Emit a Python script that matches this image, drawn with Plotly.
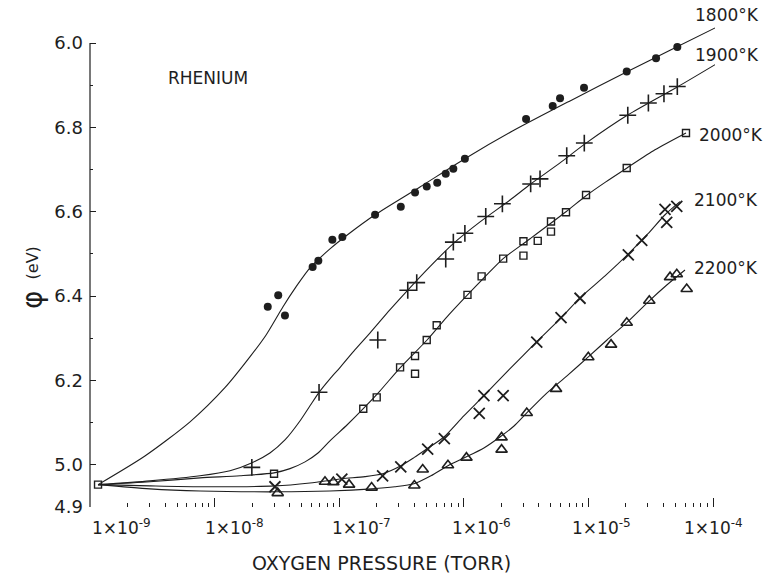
import plotly.graph_objects as go

# ---------------- data ----------------
# work function phi (eV) vs oxygen pressure (torr)
p1800 = [2.67e-8, 3.24e-8, 3.67e-8, 6.12e-8, 6.80e-8, 8.81e-8, 1.06e-7, 1.94e-7, 3.12e-7, 4.06e-7,
         5.04e-7, 6.12e-7, 7.16e-7, 8.24e-7, 1.02e-6, 3.16e-6, 5.17e-6, 5.92e-6, 9.22e-6, 2.03e-5,
         3.49e-5, 5.17e-5]
phi1800 = [6.375, 6.402, 6.354, 6.469, 6.484, 6.534, 6.540, 6.593, 6.612, 6.646,
           6.660, 6.669, 6.690, 6.702, 6.726, 6.820, 6.851, 6.869, 6.894, 6.933,
           6.964, 6.991]

p1900 = [1.99e-8, 6.89e-8, 2.04e-7, 3.55e-7, 4.19e-7, 7.16e-7, 8.24e-7, 1.02e-6, 1.50e-6, 2.04e-6,
         3.44e-6, 4.09e-6, 6.70e-6, 9.27e-6, 2.07e-5, 3.03e-5, 4.04e-5, 5.17e-5]
phi1900 = [5.994, 6.172, 6.296, 6.414, 6.432, 6.488, 6.528, 6.549, 6.589, 6.619,
           6.666, 6.678, 6.733, 6.763, 6.829, 6.858, 6.880, 6.897]

p2000 = [1.16e-9, 3.00e-8, 1.56e-7, 2.00e-7, 3.08e-7, 4.06e-7, 4.06e-7, 5.04e-7, 6.06e-7, 1.07e-6,
         1.39e-6, 2.07e-6, 3.01e-6, 3.01e-6, 3.92e-6, 5.01e-6, 5.01e-6, 6.61e-6, 9.57e-6, 2.03e-5,
         6.07e-5]
phi2000 = [5.953, 5.979, 6.133, 6.160, 6.231, 6.216, 6.258, 6.296, 6.331, 6.403,
           6.447, 6.489, 6.530, 6.496, 6.531, 6.577, 6.553, 6.599, 6.640, 6.704,
           6.787]

p2100 = [3.05e-8, 1.05e-7, 2.23e-7, 3.12e-7, 5.13e-7, 6.98e-7, 1.33e-6, 1.45e-6, 2.07e-6, 3.85e-6,
         6.03e-6, 8.57e-6, 2.09e-5, 2.68e-5, 4.12e-5, 4.25e-5, 5.12e-5]
phi2100 = [5.948, 5.966, 5.974, 5.995, 6.037, 6.062, 6.122, 6.164, 6.164, 6.291,
           6.349, 6.395, 6.498, 6.532, 6.606, 6.575, 6.613]

p2200 = [3.21e-8, 7.69e-8, 8.97e-8, 1.20e-7, 1.82e-7, 4.01e-7, 4.68e-7, 7.46e-7, 1.05e-6, 2.01e-6,
         2.01e-6, 3.20e-6, 5.50e-6, 9.98e-6, 1.52e-5, 2.03e-5, 3.08e-5, 4.52e-5, 5.12e-5, 6.15e-5]
phi2200 = [5.933, 5.960, 5.959, 5.953, 5.946, 5.951, 5.989, 5.999, 6.017, 6.065,
           6.036, 6.123, 6.180, 6.255, 6.285, 6.337, 6.389, 6.445, 6.452, 6.417]

# fitted curves
c1800_p = [1.16e-9, 2.76e-9, 6.35e-9, 1.21e-8, 1.92e-8, 2.59e-8, 3.54e-8, 4.50e-8, 5.83e-8, 8.43e-8,
           1.16e-7, 1.94e-7, 4.45e-7, 1.02e-6, 2.48e-6, 7.12e-6, 2.04e-5, 4.52e-5, 1.04e-4]
c1800_phi = [5.953, 6.021, 6.102, 6.183, 6.256, 6.308, 6.375, 6.422, 6.467, 6.512,
             6.545, 6.593, 6.659, 6.726, 6.792, 6.863, 6.932, 6.983, 7.036]

c1900_p = [1.16e-9, 3.03e-9, 7.64e-9, 1.33e-8, 2.00e-8, 2.78e-8, 3.67e-8, 4.84e-8, 5.83e-8, 6.89e-8,
           8.43e-8, 1.01e-7, 1.34e-7, 1.77e-7, 2.56e-7, 3.57e-7, 5.35e-7, 8.19e-7, 1.35e-6, 2.35e-6,
           3.44e-6, 5.92e-6, 9.39e-6, 2.08e-5, 5.17e-5, 1.04e-4]
c1900_phi = [5.953, 5.962, 5.974, 5.986, 6.005, 6.028, 6.059, 6.104, 6.140, 6.172,
             6.204, 6.230, 6.273, 6.313, 6.368, 6.415, 6.470, 6.524, 6.576, 6.628,
             6.666, 6.716, 6.761, 6.830, 6.896, 6.949]

c2000_p = [1.16e-9, 3.03e-9, 7.64e-9, 1.60e-8, 3.00e-8, 4.03e-8, 5.32e-8, 6.76e-8, 8.43e-8, 1.16e-7,
           1.56e-7, 2.12e-7, 3.08e-7, 5.07e-7, 7.33e-7, 1.07e-6, 1.48e-6, 2.07e-6, 3.40e-6, 6.61e-6,
           9.57e-6, 1.38e-5, 2.04e-5, 3.42e-5, 6.07e-5]
c2000_phi = [5.953, 5.960, 5.969, 5.974, 5.981, 5.991, 6.007, 6.028, 6.057, 6.095,
             6.133, 6.175, 6.230, 6.296, 6.351, 6.403, 6.446, 6.489, 6.536, 6.600,
             6.638, 6.671, 6.704, 6.747, 6.787]

c2100_p = [1.16e-9, 3.03e-9, 7.64e-9, 3.05e-8, 5.83e-8, 1.05e-7, 1.61e-7, 2.23e-7, 3.13e-7, 3.98e-7,
           5.07e-7, 6.93e-7, 1.00e-6, 1.45e-6, 2.35e-6, 3.85e-6, 5.92e-6, 8.57e-6, 1.36e-5, 2.09e-5,
           3.01e-5, 4.12e-5, 5.43e-5]
c2100_phi = [5.953, 5.950, 5.948, 5.950, 5.957, 5.967, 5.972, 5.979, 5.998, 6.017,
             6.038, 6.066, 6.116, 6.164, 6.228, 6.292, 6.346, 6.396, 6.448, 6.500,
             6.548, 6.593, 6.624]

c2200_p = [1.16e-9, 3.03e-9, 7.64e-9, 3.17e-8, 8.43e-8, 1.83e-7, 2.80e-7, 3.98e-7, 5.45e-7, 7.46e-7,
           1.05e-6, 1.45e-6, 1.95e-6, 2.53e-6, 3.20e-6, 4.48e-6, 6.73e-6, 9.98e-6, 1.41e-5, 2.03e-5,
           3.08e-5, 4.28e-5, 5.96e-5]
c2200_phi = [5.953, 5.943, 5.938, 5.936, 5.938, 5.943, 5.948, 5.955, 5.974, 5.998,
             6.019, 6.040, 6.066, 6.092, 6.123, 6.166, 6.211, 6.256, 6.296, 6.337,
             6.389, 6.427, 6.462]

temp_labels = ["1800°K", "1900°K", "2000°K", "2100°K", "2200°K"]

x_decades = [1e-9, 1e-8, 1e-7, 1e-6, 1e-5, 1e-4]
x_exponents = ["-9", "-8", "-7", "-6", "-5", "-4"]
y_tickvals = [5.9, 6.0, 6.2, 6.4, 6.6, 6.8, 7.0]
y_ticktext = ["4.9", "5.0", "6.2", "6.4", "6.6", "6.8", "6.0"]
y_minor = [6.1, 6.3, 6.5, 6.7, 6.9]

# ---------------- styling ----------------
INK = "#1e1e1e"
FONT = "DejaVu Sans"

fig = go.Figure()

curves = [(c1800_p, c1800_phi), (c1900_p, c1900_phi), (c2000_p, c2000_phi),
          (c2100_p, c2100_phi), (c2200_p, c2200_phi)]
for cx, cy in curves:
    fig.add_trace(go.Scatter(x=cx, y=cy, mode="lines",
                             line=dict(shape="spline", smoothing=0.7, width=1.1, color=INK),
                             hoverinfo="skip"))

series = [
    (p1800, phi1800, dict(symbol="circle", size=8, color=INK)),
    (p1900, phi1900, dict(symbol="cross-thin", size=12, color=INK, line=dict(width=1.6, color=INK))),
    (p2000, phi2000, dict(symbol="square-open", size=7, color=INK, line=dict(width=1.4, color=INK))),
    (p2100, phi2100, dict(symbol="x-thin", size=11, color=INK, line=dict(width=1.8, color=INK))),
    (p2200, phi2200, dict(symbol="triangle-up-open", size=10, color=INK, line=dict(width=1.6, color=INK))),
]
for sx, sy, mk in series:
    fig.add_trace(go.Scatter(x=sx, y=sy, mode="markers", marker=mk, cliponaxis=False))

minor_x = [m * d for d in x_decades[:-1] for m in range(2, 10)]

fig.update_layout(
    width=773, height=580,
    margin=dict(l=90, r=58, t=12, b=73),
    paper_bgcolor="white", plot_bgcolor="white",
    showlegend=False,
    font=dict(family=FONT, color=INK, size=17),
    xaxis=dict(type="log", range=[-9, -3.984], showgrid=False, zeroline=False, showline=False,
               ticks="inside", ticklen=9, tickwidth=1, tickcolor=INK,
               tickvals=x_decades, showticklabels=False,
               minor=dict(ticks="inside", ticklen=4, tickwidth=1, tickcolor=INK, tickvals=minor_x)),
    yaxis=dict(range=[5.9, 7.0738], showgrid=False, zeroline=False, showline=False,
               ticks="inside", ticklen=6, tickwidth=1, tickcolor=INK,
               tickvals=y_tickvals, ticktext=y_ticktext,
               tickfont=dict(size=18, family=FONT, color=INK), ticklabelstandoff=6,
               minor=dict(ticks="inside", ticklen=3, tickwidth=1, tickcolor=INK, tickvals=y_minor)),
)

# axis lines
fig.add_shape(type="line", xref="paper", yref="y", x0=0, x1=0, y0=5.9, y1=7.0,
              line=dict(color=INK, width=1.2))
fig.add_shape(type="line", xref="x", yref="paper", x0=-9, x1=-4, y0=0, y1=0,
              line=dict(color=INK, width=1.2))

# x tick labels
label_shift = [31, 20, 22, 18, 13, 0]
for dec, ex, sh in zip([-9, -8, -7, -6, -5, -4], x_exponents, label_shift):
    txt = ("<span style='font-size:17px'>1×10</span>"
           "<sup><span style='font-size:12px'>" + ex + "</span></sup>")
    fig.add_annotation(x=dec, y=0, xref="x", yref="paper", text=txt, showarrow=False,
                       xanchor="center", yanchor="middle", xshift=sh, yshift=-20,
                       font=dict(size=17, family=FONT, color=INK))

# axis titles
fig.add_annotation(x=0.466, y=0, xref="paper", yref="paper", text="OXYGEN PRESSURE (TORR)",
                   showarrow=False, xanchor="center", yanchor="middle", yshift=-56,
                   font=dict(size=19, family=FONT, color=INK))
fig.add_annotation(x=-0.0928, y=0.418, xref="paper", yref="paper", text="φ", textangle=-90,
                   showarrow=False, xanchor="center", yanchor="middle",
                   font=dict(size=28, family=FONT, color=INK))
fig.add_annotation(x=-0.0928, y=0.492, xref="paper", yref="paper", text="(eV)", textangle=-90,
                   showarrow=False, xanchor="center", yanchor="middle",
                   font=dict(size=16, family=FONT, color=INK))

# panel title
fig.add_annotation(x=0.122, y=0.867, xref="paper", yref="paper", text="RHENIUM",
                   showarrow=False, xanchor="left", yanchor="middle",
                   font=dict(size=17, family=FONT, color=INK))

# temperature labels (pixel positions converted to paper)
label_pos = [(693, 15), (693, 55), (697, 135), (692, 200), (692, 268)]
for txt, (px, py) in zip(temp_labels, label_pos):
    fig.add_annotation(x=(px - 90) / 625, y=(507 - py) / 495, xref="paper", yref="paper",
                       text=txt, showarrow=False, xanchor="left", yanchor="middle",
                       font=dict(size=17, family=FONT, color=INK))

fig.write_html("out.html")
